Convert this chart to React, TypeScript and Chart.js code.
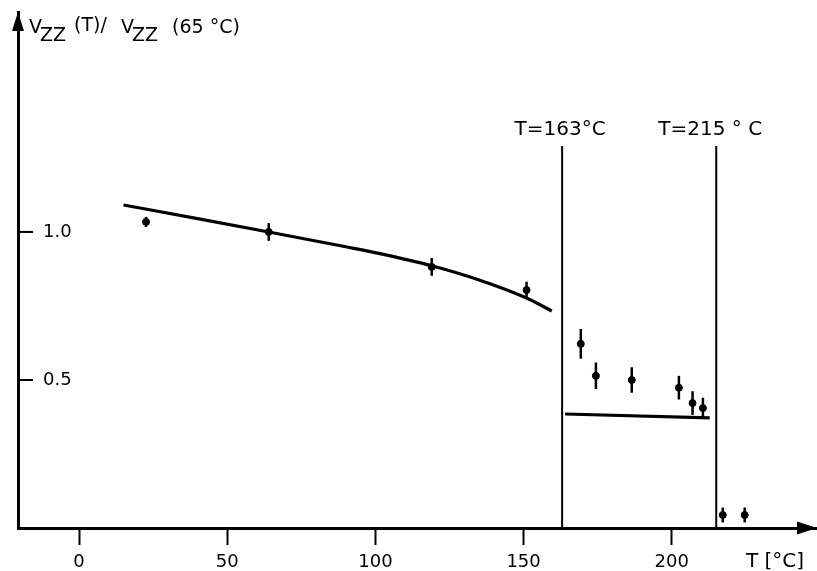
import React, { useEffect, useRef } from "react";
import { Chart, registerables } from "chart.js";

Chart.register(...registerables);

// measured points (T in °C, normalized Vzz) with error bars
const pointT = [22.6, 64, 119, 151, 169.3, 174.4, 186.5, 202.4, 207, 210.5, 217.2, 224.6];
const pointV = [1.034, 1.0, 0.882, 0.804, 0.622, 0.514, 0.5, 0.474, 0.422, 0.405, 0.044, 0.044];
const pointErr = [0.017, 0.03, 0.03, 0.028, 0.05, 0.045, 0.043, 0.04, 0.04, 0.035, 0.025, 0.025];

// fitted curve below 163 °C
const curveT = [15, 40, 64, 90, 101.5, 119, 135, 151, 159.5];
const curveV = [1.091, 1.045, 1.0, 0.95, 0.927, 0.886, 0.838, 0.777, 0.733];

// flat line between the transitions
const flatT = [164, 212.8];
const flatV = [0.385, 0.372];

// transition temperatures
const transT = [163, 215];
const transLabels = ["T=163°C", "T=215 ° C"];
const transTop = 1.29;

// axis ticks
const xTicks = [0, 50, 100, 150, 200];
const yTicks = [0.5, 1.0];

const FONT = "'DejaVu Sans', sans-serif";

export default function App() {
  const ref = useRef<HTMLCanvasElement | null>(null);

  useEffect(() => {
    document.body.style.margin = "0";
    const canvas = ref.current;
    if (!canvas) return;

    const decor = {
      id: "decor",
      afterDraw(chart: any) {
        const { ctx } = chart;
        const xs = chart.scales.x;
        const ys = chart.scales.y;
        const x0 = xs.left;
        const y0 = ys.bottom;
        ctx.save();
        ctx.fillStyle = "#000";
        ctx.strokeStyle = "#000";
        // y arrow head
        ctx.beginPath();
        ctx.moveTo(x0, ys.top);
        ctx.lineTo(x0 - 6, ys.top + 19);
        ctx.lineTo(x0 + 6, ys.top + 19);
        ctx.closePath();
        ctx.fill();
        // x arrow head
        ctx.beginPath();
        ctx.moveTo(xs.right, y0);
        ctx.lineTo(xs.right - 20, y0 - 6.5);
        ctx.lineTo(xs.right - 20, y0 + 6.5);
        ctx.closePath();
        ctx.fill();
        // inward y ticks
        ctx.lineWidth = 2;
        yTicks.forEach((v) => {
          const py = ys.getPixelForValue(v);
          ctx.beginPath();
          ctx.moveTo(x0, py);
          ctx.lineTo(x0 + 15, py);
          ctx.stroke();
        });
        // error bars
        ctx.lineWidth = 2.5;
        pointT.forEach((t, i) => {
          const px = xs.getPixelForValue(t);
          const p1 = ys.getPixelForValue(pointV[i] - pointErr[i]);
          const p2 = ys.getPixelForValue(pointV[i] + pointErr[i]);
          ctx.beginPath();
          ctx.moveTo(px, p1);
          ctx.lineTo(px, p2);
          ctx.stroke();
        });
        // transition labels
        ctx.font = `20px ${FONT}`;
        ctx.textAlign = "center";
        ctx.textBaseline = "alphabetic";
        transT.forEach((t, i) => {
          const px = xs.getPixelForValue(t);
          ctx.fillText(transLabels[i], px - (i === 0 ? 2 : 6), 135);
        });
        // x axis unit label
        ctx.font = `20px ${FONT}`;
        ctx.fillText("T [°C]", 775, 567);
        // y axis title
        ctx.textAlign = "left";
        ctx.font = `19px ${FONT}`;
        ctx.fillText("V", 29, 33);
        ctx.fillText("ZZ", 40, 41);
        ctx.fillText("(T)/", 74, 31);
        ctx.fillText("V", 121, 33);
        ctx.fillText("ZZ", 132, 41);
        ctx.fillText("(65 °C)", 172, 33);
        ctx.restore();
      },
    };

    const chart = new Chart(canvas, {
      type: "scatter",
      data: {
        datasets: [
          {
            type: "line",
            data: curveT.map((t, i) => ({ x: t, y: curveV[i] })),
            borderColor: "#000",
            borderWidth: 3.2,
            pointRadius: 0,
            cubicInterpolationMode: "monotone",
            fill: false,
          },
          {
            type: "line",
            data: flatT.map((t, i) => ({ x: t, y: flatV[i] })),
            borderColor: "#000",
            borderWidth: 3.2,
            pointRadius: 0,
            fill: false,
          },
          ...transT.map((t) => ({
            type: "line" as const,
            data: [
              { x: t, y: 0 },
              { x: t, y: transTop },
            ],
            borderColor: "#000",
            borderWidth: 2,
            pointRadius: 0,
            fill: false,
          })),
          {
            type: "scatter",
            data: pointT.map((t, i) => ({ x: t, y: pointV[i] })),
            backgroundColor: "#000",
            borderColor: "#000",
            pointRadius: 3.5,
            pointStyle: "circle",
          },
        ],
      },
      options: {
        animation: false,
        responsive: false,
        events: [],
        layout: { autoPadding: false, padding: { top: 12, left: 0, right: 0, bottom: 0 } },
        plugins: {
          legend: { display: false },
          tooltip: { enabled: false },
        },
        scales: {
          x: {
            type: "linear",
            min: -20.6,
            max: 249,
            afterBuildTicks: (s: any) => {
              s.ticks = xTicks.map((v) => ({ value: v }));
            },
            afterFit: (s: any) => {
              s.height = 43;
              s.paddingLeft = 0;
              s.paddingRight = 0;
              s.paddingTop = 0;
              s.paddingBottom = 0;
            },
            grid: {
              drawOnChartArea: false,
              drawTicks: true,
              tickLength: 17,
              tickWidth: 2,
              tickColor: "#000",
            },
            border: { display: true, color: "#000", width: 3 },
            ticks: {
              color: "#000",
              font: { family: FONT, size: 18 },
              padding: 7,
              maxRotation: 0,
            },
          },
          y: {
            type: "linear",
            min: 0,
            max: 1.743,
            afterBuildTicks: (s: any) => {
              s.ticks = yTicks.map((v) => ({ value: v }));
            },
            afterFit: (s: any) => {
              s.width = 18;
              s.paddingLeft = 0;
              s.paddingRight = 0;
              s.paddingTop = 0;
              s.paddingBottom = 0;
            },
            grid: { drawOnChartArea: false, drawTicks: false },
            border: { display: true, color: "#000", width: 3 },
            ticks: {
              mirror: true,
              padding: 25,
              color: "#000",
              font: { family: FONT, size: 18 },
              callback: (v: any) => Number(v).toFixed(1),
            },
          },
        },
      },
      plugins: [decor],
    } as any);

    return () => chart.destroy();
  }, []);

  return (
    <div style={{ width: 817, height: 571, background: "#fff" }}>
      <canvas ref={ref} width={817} height={571} />
    </div>
  );
}
